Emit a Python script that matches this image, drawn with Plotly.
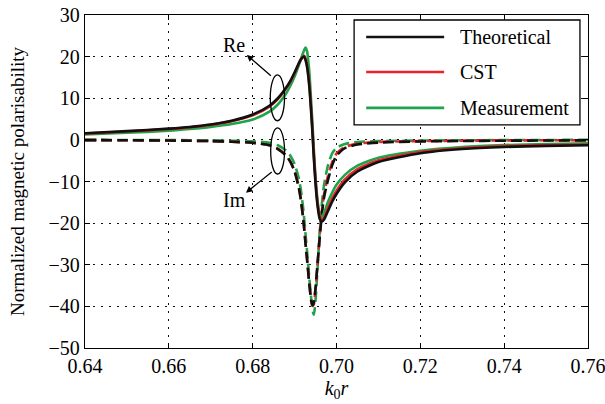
import plotly.graph_objects as go

# normalized frequency k0*r
k = [0.64, 0.65, 0.66, 0.665, 0.67, 0.675, 0.68, 0.684, 0.686, 0.688, 0.689, 0.690,
     0.691, 0.6915, 0.692, 0.6923, 0.6926, 0.693, 0.6935, 0.694, 0.6943, 0.6946,
     0.695, 0.6955, 0.696, 0.6965, 0.697, 0.698, 0.699, 0.700, 0.702, 0.705, 0.71,
     0.72, 0.73, 0.74, 0.75, 0.76]

theo_re = [1.6, 2.1, 2.7, 3.1, 3.7, 4.6, 6.1, 8.2, 10.0, 12.6, 14.2, 16.2,
           18.4, 19.3, 19.9, 20.0, 19.2, 17.4, 13.0, 6.0, 1.0, -4.5,
           -10.5, -16.0, -19.0, -19.6, -19.2, -17.0, -14.8, -13.0, -10.2, -7.6, -5.3,
           -3.2, -2.2, -1.7, -1.45, -1.3]
cst_re = [1.5, 2.0, 2.6, 3.0, 3.6, 4.5, 5.9, 8.0, 9.8, 12.4, 14.0, 16.0,
          18.3, 19.3, 20.0, 20.2, 19.6, 17.8, 13.6, 6.8, 1.8, -3.6,
          -9.8, -15.3, -18.4, -19.1, -18.7, -16.3, -14.0, -12.2, -9.5, -7.0, -4.9,
          -2.9, -2.0, -1.5, -1.25, -1.1]
meas_re = [1.3, 1.7, 2.2, 2.6, 3.1, 3.8, 4.9, 6.8, 8.5, 11.2, 13.0, 15.2,
           17.9, 19.4, 20.8, 21.6, 22.2, 21.2, 16.5, 8.5, 3.2, -2.5,
           -9.0, -14.8, -18.0, -18.4, -17.6, -14.8, -12.6, -10.8, -8.4, -6.2, -4.3,
           -2.6, -1.7, -1.25, -1.0, -0.85]

theo_im = [-0.05, -0.1, -0.15, -0.22, -0.3, -0.45, -0.7, -1.3, -2.2, -3.8, -5.3, -7.6,
           -11.5, -14.5, -18.5, -21.5, -24.8, -29.0, -34.5, -38.8, -39.7, -39.0,
           -35.5, -29.5, -23.5, -18.0, -14.0, -9.5, -6.0, -3.8, -2.0, -1.1, -0.65,
           -0.38, -0.27, -0.2, -0.15, -0.12]
cst_im = [-0.05, -0.1, -0.15, -0.22, -0.3, -0.45, -0.7, -1.3, -2.1, -3.7, -5.2, -7.4,
          -11.2, -14.2, -18.2, -21.2, -24.6, -28.8, -34.3, -38.8, -39.9, -39.5,
          -35.8, -29.5, -23.0, -17.2, -13.2, -8.6, -5.3, -3.3, -1.7, -0.9, -0.5,
          -0.3, -0.2, -0.15, -0.1, -0.08]
meas_im = [0.0, -0.02, -0.05, -0.08, -0.12, -0.2, -0.35, -0.7, -1.3, -2.6, -3.8, -5.8,
           -9.2, -12.0, -16.0, -19.0, -22.5, -27.0, -33.0, -38.5, -41.0, -42.0,
           -38.5, -30.5, -22.0, -15.5, -11.0, -6.0, -3.2, -1.9, -1.0, -0.5, -0.3,
           -0.15, -0.1, -0.05, -0.02, 0.0]

x_ticks = [0.64, 0.66, 0.68, 0.70, 0.72, 0.74, 0.76]
x_tick_labels = ["0.64", "0.66", "0.68", "0.70", "0.72", "0.74", "0.76"]
y_ticks = [-50, -40, -30, -20, -10, 0, 10, 20, 30]

BLACK = "#111111"
RED = "#e8232a"
GREEN = "#1ea54c"
FONT = "Liberation Serif"
LW = 2.6
DASH = "11px,5px"

fig = go.Figure()
series = [
    ("Measurement", meas_re, meas_im, GREEN),
    ("CST", cst_re, cst_im, RED),
    ("Theoretical", theo_re, theo_im, BLACK),
]
for name, re, im, col in series:
    fig.add_trace(go.Scatter(x=k, y=im, mode="lines", name=name + " Im",
                             line=dict(color=col, width=LW, dash=DASH, shape="spline", smoothing=0.6),
                             showlegend=False))
for name, re, im, col in series:
    fig.add_trace(go.Scatter(x=k, y=re, mode="lines", name=name,
                             line=dict(color=col, width=LW, shape="spline", smoothing=0.6),
                             showlegend=False))

# legend drawn as a boxed key (long line samples, as in the reference)
legend_order = ["Theoretical", "CST", "Measurement"]
legend_colors = {n: c for n, _, _, c in series}
legend_rows_y = [0.934, 0.829, 0.721]
fig.add_shape(type="rect", xref="paper", yref="paper", x0=0.535, x1=0.984, y0=0.670, y1=0.985,
              line=dict(color="black", width=1.3), fillcolor="white", layer="above")
for name, yy in zip(legend_order, legend_rows_y):
    fig.add_shape(type="line", xref="paper", yref="paper", x0=0.559, x1=0.714, y0=yy, y1=yy,
                  line=dict(color=legend_colors[name], width=LW), layer="above")
    fig.add_annotation(xref="paper", yref="paper", x=0.742, y=yy, xanchor="left", yanchor="middle",
                       text=name, showarrow=False,
                       font=dict(family=FONT, size=20, color="black"))

# annotation ellipses
fig.add_shape(type="circle", xref="x", yref="y", x0=0.6842, x1=0.6876, y0=4.6, y1=15.6,
              line=dict(color="black", width=1.3))
fig.add_shape(type="circle", xref="x", yref="y", x0=0.6843, x1=0.6876, y0=-8.2, y1=2.9,
              line=dict(color="black", width=1.3))
fig.add_annotation(x=0.6786, y=20.4, ax=0.6847, ay=15.1, xref="x", yref="y",
                   axref="x", ayref="y", text="", showarrow=True, arrowhead=2,
                   arrowsize=1, arrowwidth=1.3, arrowcolor="black")
fig.add_annotation(x=0.6784, y=-12.7, ax=0.6849, ay=-7.4, xref="x", yref="y",
                   axref="x", ayref="y", text="", showarrow=True, arrowhead=2,
                   arrowsize=1, arrowwidth=1.3, arrowcolor="black")
fig.add_annotation(x=0.6756, y=22.8, text="Re", showarrow=False,
                   font=dict(family=FONT, size=20, color="black"))
fig.add_annotation(x=0.6756, y=-14.4, text="Im", showarrow=False,
                   font=dict(family=FONT, size=20, color="black"))

axis_common = dict(showline=True, linecolor="black", linewidth=1.3, mirror="ticks",
                   ticks="inside", ticklen=5, tickcolor="black", automargin=False,
                   showgrid=True, gridcolor="#111111", gridwidth=1.2, griddash="2px,6px",
                   zeroline=False, ticklabeloverflow="allow",
                   tickfont=dict(family=FONT, size=20, color="black"))
fig.update_xaxes(range=[0.6399999, 0.7600001], tickvals=x_ticks, ticktext=x_tick_labels,
                 title=dict(text="<i>k</i><sub>0</sub><i>r</i>", standoff=4,
                            font=dict(family=FONT, size=20, color="black")),
                 **axis_common)
fig.update_yaxes(range=[-50, 30], tickvals=y_ticks,
                 title=dict(text="Normalized magnetic polarisability", standoff=18,
                            font=dict(family=FONT, size=19, color="black")),
                 **axis_common)

fig.update_layout(
    width=605, height=404,
    margin=dict(l=85, r=17, t=15, b=56),
    paper_bgcolor="white", plot_bgcolor="white",
    showlegend=False,
)

fig.write_html("out.html", config={"displayModeBar": False},
               post_script="document.body.style.margin='0px';")
